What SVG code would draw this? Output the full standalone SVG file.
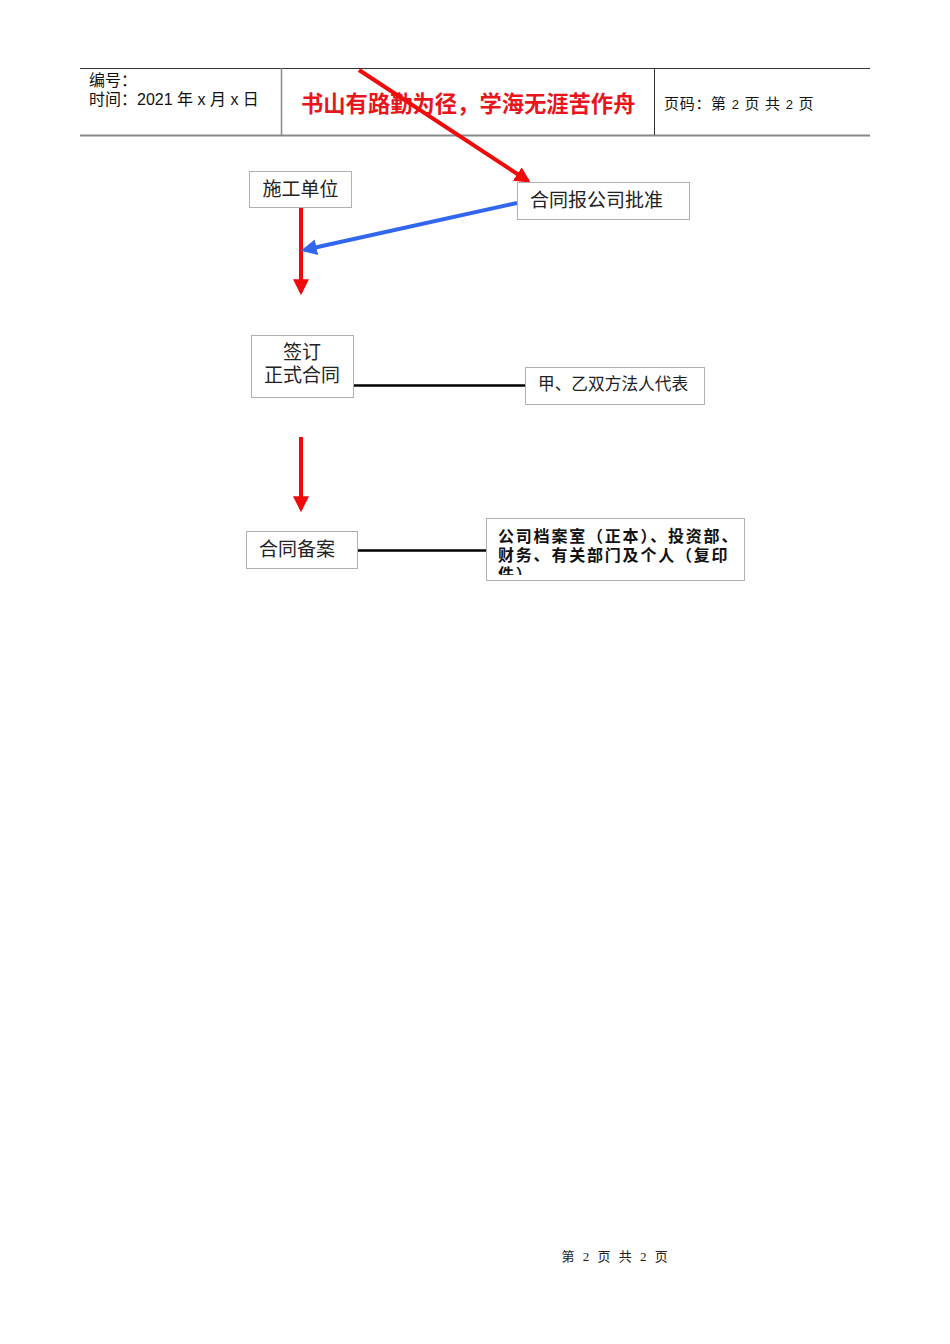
<svg xmlns="http://www.w3.org/2000/svg" width="950" height="1344" viewBox="0 0 950 1344">
<style>
.box{fill:#fff;stroke:#b0b0b0;stroke-width:1}
.t{font-family:"Liberation Serif","Noto Sans CJK SC",serif;fill:#222}
.s{font-family:"Liberation Sans","Noto Sans CJK SC",sans-serif;fill:#111}
</style>
<defs>
<marker id="ar" markerWidth="4" markerHeight="4" refX="3.2" refY="2" orient="auto" markerUnits="strokeWidth"><path d="M0,0 L4,2 L0,4 Z" fill="#f00a0a"/></marker>
<marker id="ab" markerWidth="4" markerHeight="4" refX="3.2" refY="2" orient="auto" markerUnits="strokeWidth"><path d="M0,0 L4,2 L0,4 Z" fill="#3366ee"/></marker>
<clipPath id="cp"><rect x="487" y="519" width="256" height="56"/></clipPath>
</defs>
<rect width="950" height="1344" fill="#fff"/>
<g id="header">
<line x1="80" y1="68.5" x2="870" y2="68.5" stroke="#333" stroke-width="1"/>
<line x1="80" y1="135.5" x2="870" y2="135.5" stroke="#888" stroke-width="2"/>
<line x1="281.5" y1="68" x2="281.5" y2="135" stroke="#888" stroke-width="1.5"/>
<line x1="654.5" y1="68" x2="654.5" y2="135" stroke="#333" stroke-width="1"/>
<text class="s" x="89" y="86" font-size="16">编号：</text>
<text class="s" x="89" y="105" font-size="16">时间：2021 年 x 月 x 日</text>
<text x="301" y="112" font-size="22.3" font-weight="bold" fill="#e8161c" font-family="'Noto Sans CJK SC',sans-serif">书山有路勤为径，学海无涯苦作舟</text>
<text class="s" x="664" y="109" font-size="15" letter-spacing="0.7">页码：第 <tspan font-size="13">2</tspan> 页  共 <tspan font-size="13">2</tspan> 页</text>
</g>
<g id="connectors">
<line x1="359" y1="70" x2="528" y2="181" stroke="#f00a0a" stroke-width="4" marker-end="url(#ar)"/>
<line x1="301" y1="207" x2="301" y2="292" stroke="#f00a0a" stroke-width="4" marker-end="url(#ar)"/>
<line x1="517" y1="203" x2="304" y2="250" stroke="#3366ee" stroke-width="4" marker-end="url(#ab)"/>
<line x1="301" y1="437" x2="301" y2="509" stroke="#f00a0a" stroke-width="4" marker-end="url(#ar)"/>
<line x1="354" y1="385.5" x2="525" y2="385.5" stroke="#000" stroke-width="2.5"/>
<line x1="357" y1="550.5" x2="486" y2="550.5" stroke="#000" stroke-width="2.5"/>
</g>
<g id="n1">
<rect class="box" x="249.5" y="171.5" width="102" height="36"/>
<text class="t" x="300.5" y="196" font-size="19" text-anchor="middle">施工单位</text>
</g>
<g id="n2">
<rect class="box" x="517.5" y="182.5" width="172" height="37"/>
<text class="t" x="530" y="207" font-size="19">合同报公司批准</text>
</g>
<g id="n3">
<rect class="box" x="251.5" y="335.5" width="102" height="62"/>
<text class="t" x="302" y="359" font-size="19" text-anchor="middle">签订</text>
<text class="t" x="302" y="382" font-size="19" text-anchor="middle">正式合同</text>
</g>
<g id="n4">
<rect class="box" x="525.5" y="367.5" width="179" height="37"/>
<text class="t" x="538" y="390" font-size="16.7">甲、乙双方法人代表</text>
</g>
<g id="n5">
<rect class="box" x="246.5" y="531.5" width="111" height="37"/>
<text class="t" x="259" y="556" font-size="19">合同备案</text>
</g>
<g id="n6">
<rect class="box" x="486.5" y="518.5" width="258" height="62"/>
<g clip-path="url(#cp)" font-weight="bold">
<text class="s" x="498" y="542" font-size="16" letter-spacing="1.8">公司档案室（正本）、投资部、</text>
<text class="s" x="498" y="561" font-size="16" letter-spacing="1.8">财务、有关部门及个人（复印</text>
<text class="s" x="498" y="580" font-size="16" letter-spacing="1.8">件）</text>
</g>
</g>
<text class="t" x="616" y="1261" font-size="13" text-anchor="middle" fill="#333" letter-spacing="2.5">第 2 页 共 2 页</text>
</svg>
